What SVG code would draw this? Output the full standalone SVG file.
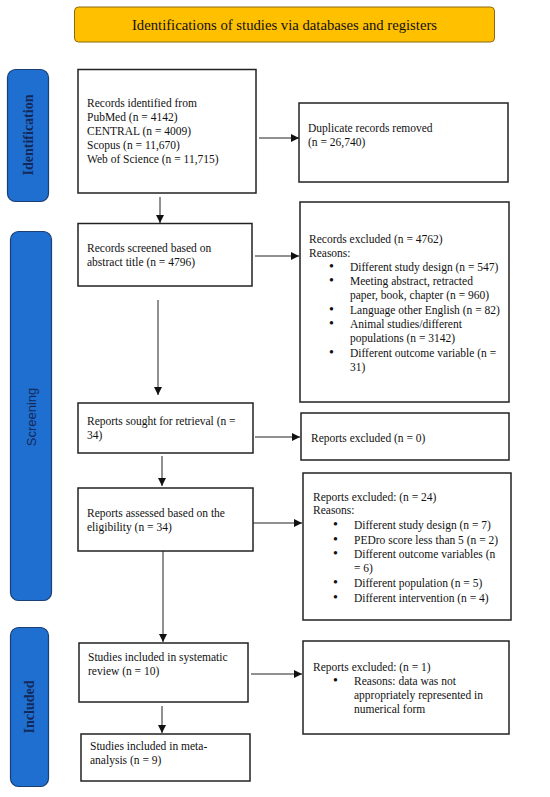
<svg xmlns="http://www.w3.org/2000/svg" width="550" height="797" viewBox="0 0 550 797">
<defs>
<marker id="ah" markerWidth="9" markerHeight="9" refX="8" refY="4.5" orient="auto" markerUnits="userSpaceOnUse">
<path d="M0,0.5 L8,4.5 L0,8.5 Z" fill="#111"/>
</marker>
<style>
.box{fill:#fff;stroke:#222;stroke-width:1.5}
.t{font-family:"Liberation Serif","Times New Roman",serif;font-size:11.5px;fill:#111}
.b{font-family:"Liberation Serif","Times New Roman",serif;font-size:14px;fill:#111}
.tab{fill:#1E6FD0;stroke:#1B3F73;stroke-width:1.2}
.tabt{font-family:"Liberation Serif","Times New Roman",serif;font-weight:bold;font-size:14px;fill:#14295A}
.tabs{font-family:"Liberation Sans",Arial,sans-serif;font-size:13px;fill:#14295A}
.c{stroke:#222;stroke-width:1;fill:none;marker-end:url(#ah)}
</style>
</defs>
<rect width="550" height="797" fill="#fff"/>

<g id="header">
<rect x="74.5" y="7" width="420" height="35" rx="4" fill="#FFC000" stroke="#8A6A10" stroke-width="1"/>
<text x="284.5" y="29.5" text-anchor="middle" font-family="Liberation Serif, Times New Roman, serif" font-size="14.7" fill="#111">Identifications of studies via databases and registers</text>
</g>

<g id="tab-identification">
<rect class="tab" x="7.5" y="69.5" width="41" height="132" rx="8"/>
<text class="tabt" transform="translate(33,135) rotate(-90)" text-anchor="middle">Identification</text>
</g>
<g id="tab-screening">
<rect class="tab" x="10.5" y="231.5" width="41" height="369" rx="8"/>
<text class="tabs" transform="translate(36,417) rotate(-90)" text-anchor="middle">Screening</text>
</g>
<g id="tab-included">
<rect class="tab" x="10.5" y="627.5" width="38" height="159" rx="8"/>
<text class="tabt" transform="translate(34,707) rotate(-90)" text-anchor="middle">Included</text>
</g>

<g id="n-identified">
<rect class="box" x="78" y="69.5" width="178" height="123.5"/>
<text class="t" x="87" y="107">Records identified from</text>
<text class="t" x="87" y="121">PubMed (n = 4142)</text>
<text class="t" x="87" y="135">CENTRAL (n = 4009)</text>
<text class="t" x="87" y="149">Scopus (n = 11,670)</text>
<text class="t" x="87" y="163">Web of Science (n = 11,715)</text>
</g>

<g id="n-duplicates">
<rect class="box" x="299" y="103" width="209" height="79"/>
<text class="t" x="308" y="132">Duplicate records removed</text>
<text class="t" x="308" y="146">(n = 26,740)</text>
</g>

<g id="n-screened">
<rect class="box" x="78" y="223.5" width="174" height="62.5"/>
<text class="t" x="87" y="252">Records screened based on</text>
<text class="t" x="87" y="266">abstract title (n = 4796)</text>
</g>

<g id="n-excluded1">
<rect class="box" x="300" y="202" width="209" height="200"/>
<text class="t" x="309" y="243">Records excluded (n = 4762)</text>
<text class="t" x="309" y="257">Reasons:</text>
<text class="b" x="329" y="271">•</text><text class="t" x="350" y="271">Different study design (n = 547)</text>
<text class="b" x="329" y="285">•</text><text class="t" x="350" y="285">Meeting abstract, retracted</text>
<text class="t" x="350" y="299">paper, book, chapter (n = 960)</text>
<text class="b" x="329" y="314">•</text><text class="t" x="350" y="314">Language other English (n = 82)</text>
<text class="b" x="329" y="328">•</text><text class="t" x="350" y="328">Animal studies/different</text>
<text class="t" x="350" y="342">populations (n = 3142)</text>
<text class="b" x="329" y="357">•</text><text class="t" x="350" y="357">Different outcome variable (n =</text>
<text class="t" x="350" y="371">31)</text>
</g>

<g id="n-sought">
<rect class="box" x="78" y="403" width="175" height="50"/>
<text class="t" x="87" y="425">Reports sought for retrieval (n =</text>
<text class="t" x="87" y="439">34)</text>
</g>

<g id="n-excluded0">
<rect class="box" x="301" y="413" width="208" height="47"/>
<text class="t" x="311" y="442">Reports excluded (n = 0)</text>
</g>

<g id="n-assessed">
<rect class="box" x="78" y="488" width="175" height="63"/>
<text class="t" x="87" y="517">Reports assessed based on the</text>
<text class="t" x="87" y="531">eligibility (n = 34)</text>
</g>

<g id="n-excluded24">
<rect class="box" x="303" y="473" width="208" height="147"/>
<text class="t" x="313" y="501">Reports excluded: (n = 24)</text>
<text class="t" x="313" y="514">Reasons:</text>
<text class="b" x="333" y="529">•</text><text class="t" x="354" y="529">Different study design (n = 7)</text>
<text class="b" x="333" y="544">•</text><text class="t" x="354" y="544">PEDro score less than 5 (n = 2)</text>
<text class="b" x="333" y="558">•</text><text class="t" x="354" y="558">Different outcome variables (n</text>
<text class="t" x="354" y="572">= 6)</text>
<text class="b" x="333" y="587">•</text><text class="t" x="354" y="587">Different population (n = 5)</text>
<text class="b" x="333" y="602">•</text><text class="t" x="354" y="602">Different intervention (n = 4)</text>
</g>

<g id="n-systematic">
<rect class="box" x="79" y="643" width="169" height="59"/>
<text class="t" x="88" y="661">Studies included in systematic</text>
<text class="t" x="88" y="675">review (n = 10)</text>
</g>

<g id="n-excluded1b">
<rect class="box" x="303" y="641" width="206" height="93"/>
<text class="t" x="313" y="671">Reports excluded: (n = 1)</text>
<text class="b" x="333" y="685">•</text><text class="t" x="354" y="685">Reasons: data was not</text>
<text class="t" x="354" y="699">appropriately represented in</text>
<text class="t" x="354" y="713">numerical form</text>
</g>

<g id="n-meta">
<rect class="box" x="81" y="734" width="169" height="47"/>
<text class="t" x="90" y="750">Studies included in meta-</text>
<text class="t" x="90" y="764">analysis (n = 9)</text>
</g>

<g id="connectors">
<line class="c" x1="259" y1="138" x2="299" y2="138"/>
<line class="c" x1="160" y1="197" x2="160" y2="223"/>
<line class="c" x1="255" y1="256" x2="299" y2="256"/>
<line class="c" x1="158" y1="300" x2="158" y2="395"/>
<line class="c" x1="255" y1="437" x2="300" y2="437"/>
<line class="c" x1="162" y1="456" x2="162" y2="486"/>
<line class="c" x1="253" y1="523" x2="302" y2="523"/>
<line class="c" x1="163" y1="551" x2="163" y2="642"/>
<line class="c" x1="251" y1="674" x2="302" y2="674"/>
<line class="c" x1="162" y1="706" x2="162" y2="733"/>
</g>
</svg>
